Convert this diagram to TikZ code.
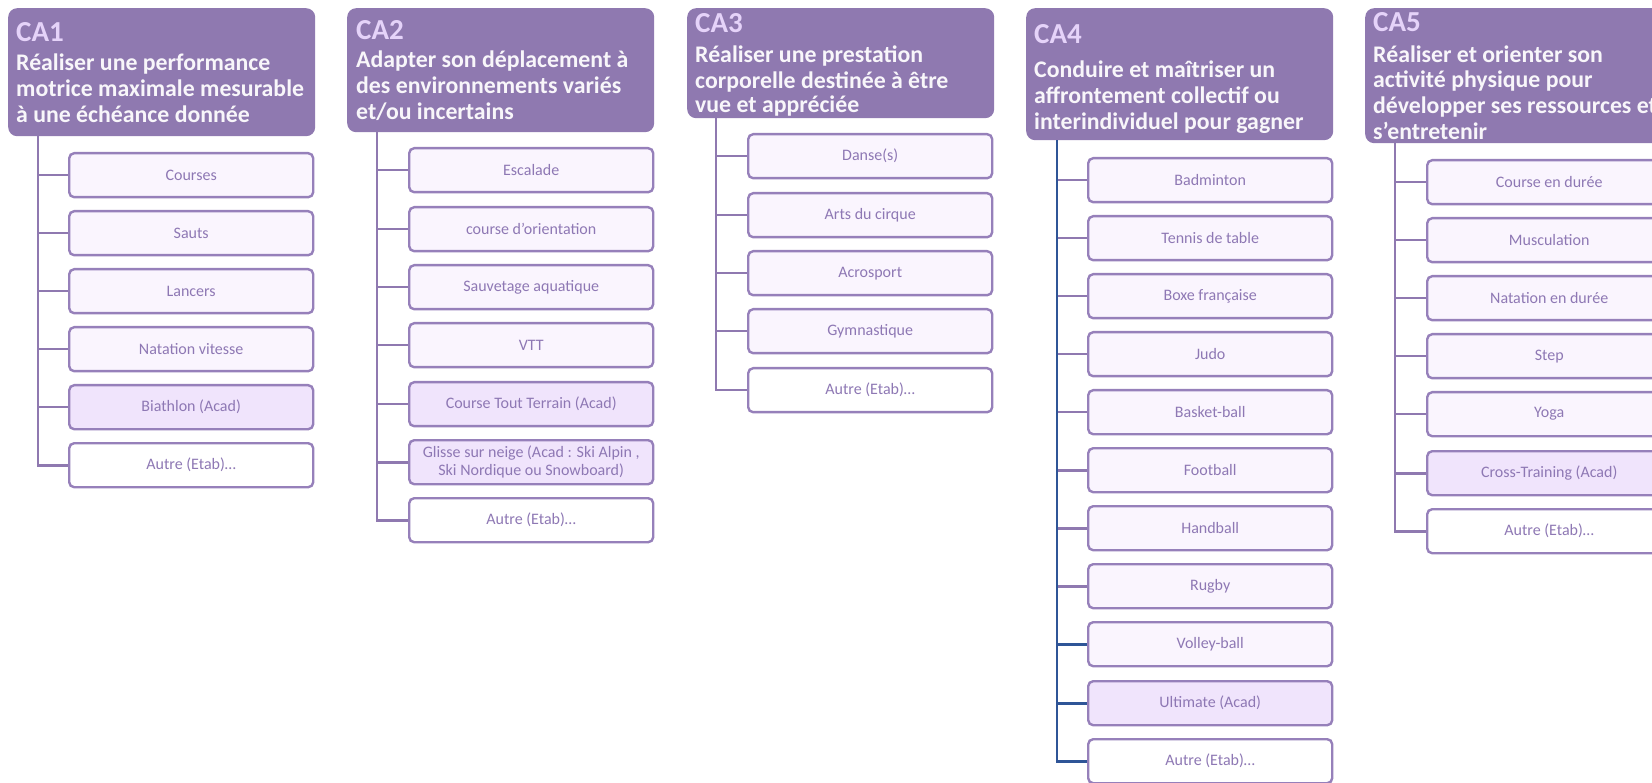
\documentclass[tikz,border=0pt]{standalone}
\usepackage{fontspec}
\setmainfont{Carlito}
\definecolor{hdrfill}{RGB}{143,121,176}
\definecolor{hdrtext}{RGB}{248,246,250}
\definecolor{calabel}{RGB}{229,211,249}
\definecolor{boxdraw}{RGB}{150,128,186}
\definecolor{boxfill}{RGB}{250,245,254}
\definecolor{acadfill}{RGB}{240,228,252}
\definecolor{boxtext}{RGB}{142,120,180}
\definecolor{linepurple}{RGB}{143,121,176}
\definecolor{lineblue}{RGB}{47,85,151}
\tikzset{
  hdr/.style={draw=none, fill=hdrfill, rounded corners=9pt, minimum width=307pt, anchor=north west, inner sep=0pt},
  calab/.style={anchor=base west, inner sep=0pt, text=calabel, font=\fontsize{29}{32}\selectfont\bfseries},
  htext/.style={anchor=base west, inner sep=0pt, text=hdrtext, font=\fontsize{23.8}{26}\selectfont\bfseries},
  act/.style={draw=boxdraw, line width=2.4pt, rounded corners=5pt, fill=boxfill, text=boxtext,
    font=\fontsize{16}{18}\selectfont, minimum width=244pt, minimum height=44pt, anchor=north west,
    inner sep=2pt, align=center},
  acad/.style={act, fill=acadfill},
  autre/.style={act, fill=white},
  conn/.style={draw=linepurple, line width=2.6pt},
  bconn/.style={draw=lineblue, line width=2.6pt},
}
\begin{document}
\begin{tikzpicture}[x=1pt, y=-1pt]
\useasboundingbox (0,0) rectangle (1652,783);
\clip (0,0) rectangle (1652,783);

% ---------- CA1 ----------
\node[hdr, minimum height=128pt] (h1) at (8,8) {};
\node[calab] (h1c) at (16,41.7) {CA1};
\node[htext] (h1a) at (16,71) {Réaliser une performance};
\node[htext] (h1b) at (16,97) {motrice maximale mesurable};
\node[htext] (h1d) at (16,122.5) {à une échéance donnée};
\node[act] (a1) at (68,152) {Courses};
\node[act] (a2) at (68,210) {Sauts};
\node[act] (a3) at (68,268) {Lancers};
\node[act] (a4) at (68,326) {Natation vitesse};
\node[acad] (a5) at (68,384) {Biathlon (Acad)};
\node[autre] (a6) at (68,442) {Autre (Etab)…};
\coordinate (r1) at ([xshift=30pt]h1.south west);
\foreach \n in {a1,a2,a3,a4,a5,a6} \draw[conn] (r1) |- (\n.west);

% ---------- CA2 ----------
\node[hdr, minimum height=124pt] (h2) at (347,8) {};
\node[calab] (h2c) at (356,40) {CA2};
\node[htext] (h2a) at (356,68) {Adapter son déplacement à};
\node[htext] (h2b) at (356,94) {des environnements variés};
\node[htext] (h2d) at (356,120) {et/ou incertains};
\node[act] (b1) at (408,147) {Escalade};
\node[act] (b2) at (408,206) {course d’orientation};
\node[act] (b3) at (408,264) {Sauvetage aquatique};
\node[act] (b4) at (408,322) {VTT};
\node[acad] (b5) at (408,381) {Course Tout Terrain (Acad)};
\node[acad] (b6) at (408,439) {Glisse sur neige (Acad : Ski Alpin ,\\ Ski Nordique ou Snowboard)};
\node[autre] (b7) at (408,497) {Autre (Etab)…};
\coordinate (r2) at ([xshift=30pt]h2.south west);
\foreach \n in {b1,b2,b3,b4,b5,b6,b7} \draw[conn] (r2) |- (\n.west);

% ---------- CA3 ----------
\node[hdr, minimum height=110pt] (h3) at (687,8) {};
\node[calab] (h3c) at (695,33) {CA3};
\node[htext] (h3a) at (695,63) {Réaliser une prestation};
\node[htext] (h3b) at (695,89) {corporelle destinée à être};
\node[htext] (h3d) at (695,113) {vue et appréciée};
\node[act] (c1) at (747,133) {Danse(s)};
\node[act] (c2) at (747,192) {Arts du cirque};
\node[act] (c3) at (747,250) {Acrosport};
\node[act] (c4) at (747,308) {Gymnastique};
\node[autre] (c5) at (747,367) {Autre (Etab)…};
\coordinate (r3) at ([xshift=29pt]h3.south west);
\foreach \n in {c1,c2,c3,c4,c5} \draw[conn] (r3) |- (\n.west);

% ---------- CA4 ----------
\node[hdr, minimum height=132pt] (h4) at (1026,8) {};
\node[calab] (h4c) at (1034,44) {CA4};
\node[htext] (h4a) at (1034,78) {Conduire et maîtriser un};
\node[htext] (h4b) at (1034,104) {affrontement collectif ou};
\node[htext] (h4d) at (1034,130) {interindividuel pour gagner};
\node[act] (d1) at (1087,157) {Badminton};
\node[act] (d2) at (1087,215) {Tennis de table};
\node[act] (d3) at (1087,273) {Boxe française};
\node[act] (d4) at (1087,331) {Judo};
\node[act] (d5) at (1087,389) {Basket-ball};
\node[act] (d6) at (1087,447) {Football};
\node[act] (d7) at (1087,505) {Handball};
\node[act] (d8) at (1087,563) {Rugby};
\node[act] (d9) at (1087,621) {Volley-ball};
\node[acad] (d10) at (1087,680) {Ultimate (Acad)};
\node[autre] (d11) at (1087,738) {Autre (Etab)…};
\coordinate (r4) at ([xshift=31pt]h4.south west);
\foreach \n in {d1,d2,d3,d4,d5,d6,d7,d8} \draw[conn] (\n.west) -- (\n.west -| r4);
\foreach \n in {d9,d10} \draw[bconn] (\n.west) -- (\n.west -| r4);
\draw[bconn] (r4) |- (d11.west);

% ---------- CA5 ----------
\node[hdr, minimum height=135pt] (h5) at (1365,8) {};
\node[calab] (h5c) at (1373,32) {CA5};
\node[htext] (h5a) at (1373,63) {Réaliser et orienter son};
\node[htext] (h5b) at (1373,88) {activité physique pour};
\node[htext] (h5d) at (1373,114) {développer ses ressources et};
\node[htext] (h5e) at (1373,140) {s’entretenir};
\node[act] (e1) at (1426,159) {Course en durée};
\node[act] (e2) at (1426,217) {Musculation};
\node[act] (e3) at (1426,275) {Natation en durée};
\node[act] (e4) at (1426,333) {Step};
\node[act] (e5) at (1426,391) {Yoga};
\node[acad] (e6) at (1426,450) {Cross-Training (Acad)};
\node[autre] (e7) at (1426,508) {Autre (Etab)…};
\coordinate (r5) at ([xshift=30pt]h5.south west);
\foreach \n in {e1,e2,e3,e4,e5,e6,e7} \draw[conn] (r5) |- (\n.west);
\end{tikzpicture}
\end{document}
